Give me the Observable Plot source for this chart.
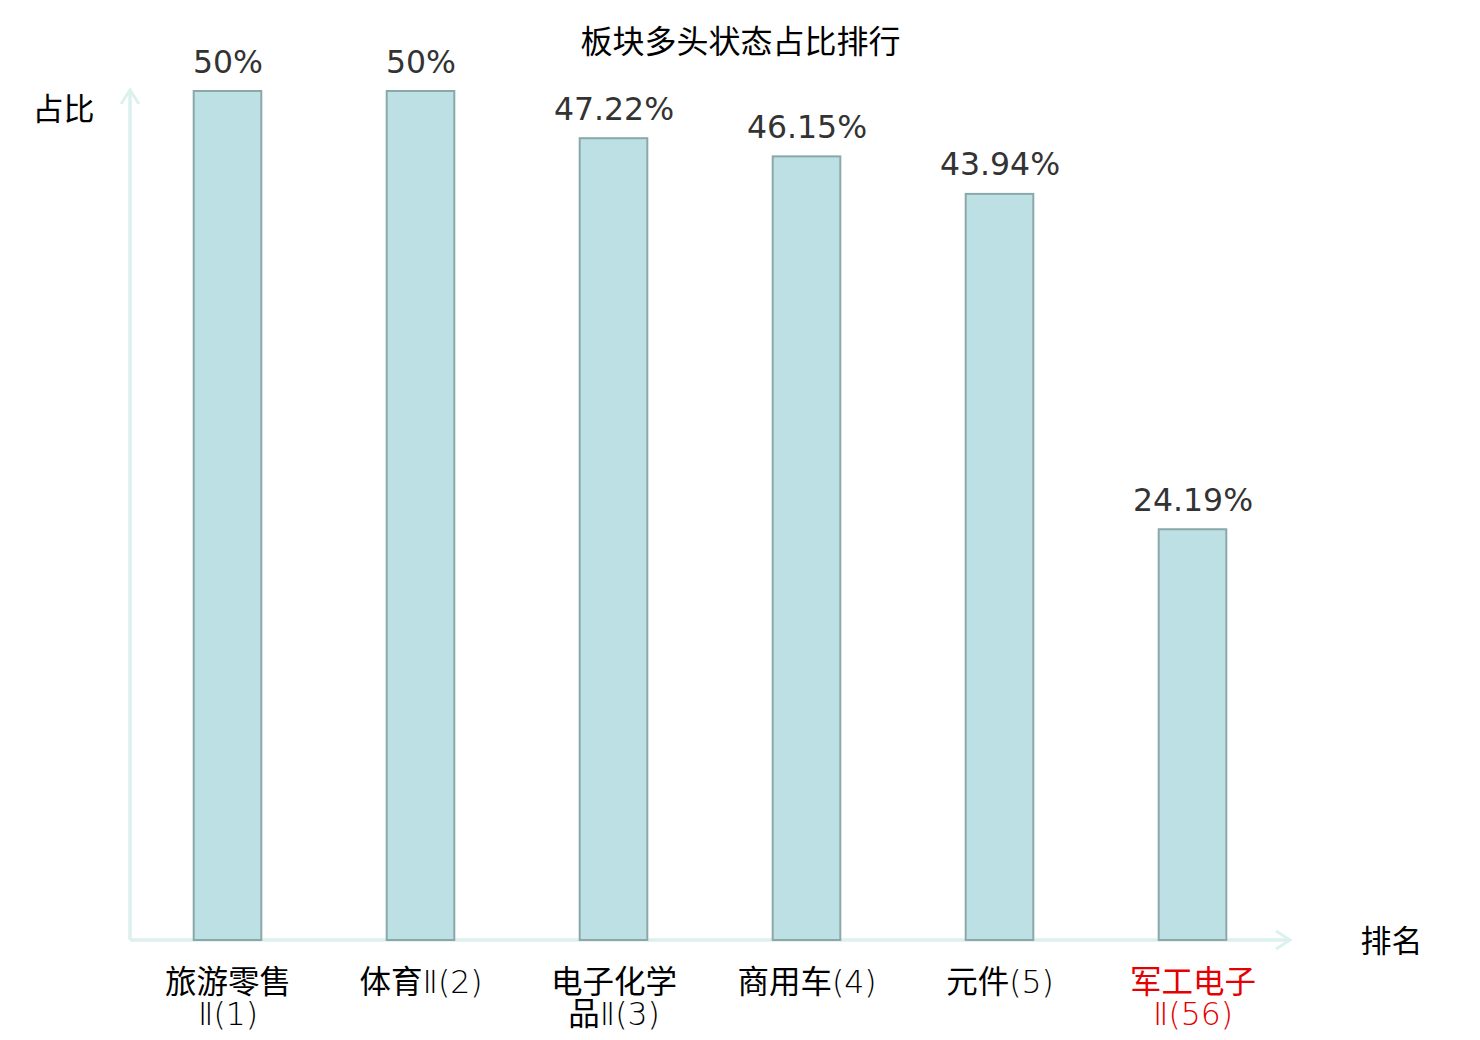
<!DOCTYPE html>
<html>
<head>
<meta charset="utf-8">
<script src="https://cdn.jsdelivr.net/npm/d3@7"></script>
<script src="https://cdn.jsdelivr.net/npm/@observablehq/plot@0.6"></script>
<style>
  html, body { margin: 0; padding: 0; background: #fff; }
</style>
</head>
<body>
<div id="chart"></div>
<script>
const categories = ["旅游零售Ⅱ(1)", "体育Ⅱ(2)", "电子化学品Ⅱ(3)", "商用车(4)", "元件(5)", "军工电子Ⅱ(56)"];
const tickLabels = ["旅游零售\nⅡ(1)", "体育Ⅱ(2)", "电子化学\n品Ⅱ(3)", "商用车(4)", "元件(5)", "军工电子\nⅡ(56)"];
const values = [50, 50, 47.22, 46.15, 43.94, 24.19];
const valueLabels = ["50%", "50%", "47.22%", "46.15%", "43.94%", "24.19%"];
const highlighted = [false, false, false, false, false, true];

const data = categories.map((c, i) => ({
  cat: c, tick: tickLabels[i], value: values[i], label: valueLabels[i], hi: highlighted[i]
}));

const axisColor = "#dcf1ee";
const cjk = "'Noto Sans CJK SC', 'DejaVu Sans', sans-serif";
const latin = "'DejaVu Sans', 'Noto Sans CJK SC', sans-serif";
const thinLatin = "'DejaVu Sans Light', 'DejaVu Sans ExtraLight', 'Noto Sans CJK SC', sans-serif";

function axesMark(index, scales, values, dims) {
  const {marginLeft, marginTop, marginBottom, marginRight, width, height} = dims;
  const x0 = marginLeft, y0 = height - marginBottom;
  const xEnd = width - marginRight, yEnd = marginTop - 1;
  const g = d3.create("svg:g")
    .attr("fill", "none")
    .attr("stroke", axisColor)
    .attr("stroke-width", 3.5)
    .attr("stroke-linecap", "butt");
  g.append("path").attr("d", `M${x0},${y0}H${xEnd}`);
  g.append("path").attr("d", `M${x0},${y0}V${yEnd}`);
  g.append("path").attr("d", `M${xEnd - 14},${y0 - 9}L${xEnd},${y0}L${xEnd - 14},${y0 + 9}`).attr("stroke-width", 3);
  g.append("path").attr("d", `M${x0 - 9},${yEnd + 14}L${x0},${yEnd}L${x0 + 9},${yEnd + 14}`).attr("stroke-width", 3);
  return g.node();
}

const chart = Plot.plot({
  width: 1480,
  height: 1040,
  marginLeft: 130,
  marginRight: 190,
  marginTop: 91,
  marginBottom: 100,
  style: { background: "#fff", overflow: "visible" },
  x: { domain: categories, padding: 0, axis: null },
  y: { domain: [0, 50], axis: null },
  marks: [
    axesMark,
    Plot.barY(data, {
      x: "cat", y: "value",
      fill: "#bce0e3", stroke: "#8ba8a9", strokeWidth: 2,
      insetLeft: 62.7, insetRight: 62.7
    }),
    Plot.text(data, {
      x: "cat", y: "value", text: "label",
      dy: -19, lineAnchor: "bottom",
      fontSize: 31.5, fill: "#333", fontFamily: latin
    }),
    Plot.text(data, {
      x: "cat", text: "tick", frameAnchor: "bottom",
      dy: 29, lineAnchor: "top", lineHeight: 1.03,
      fontSize: 31.5, fontFamily: thinLatin,
      fill: d => d.hi ? "#e60000" : "#000"
    }),
    Plot.text(["板块多头状态占比排行"], {
      frameAnchor: "top", dx: 30, dy: -49, lineAnchor: "middle",
      fontSize: 32, fontFamily: cjk, fill: "#000"
    }),
    Plot.text(["占比"], {
      frameAnchor: "top-left", dx: -67, dy: 19, lineAnchor: "middle", textAnchor: "middle",
      fontSize: 31, fontFamily: cjk, fill: "#000"
    }),
    Plot.text(["排名"], {
      frameAnchor: "bottom-right", dx: 101, dy: 2, lineAnchor: "middle", textAnchor: "middle",
      fontSize: 31, fontFamily: cjk, fill: "#000"
    })
  ]
});
document.getElementById("chart").appendChild(chart);
</script>
</body>
</html>
